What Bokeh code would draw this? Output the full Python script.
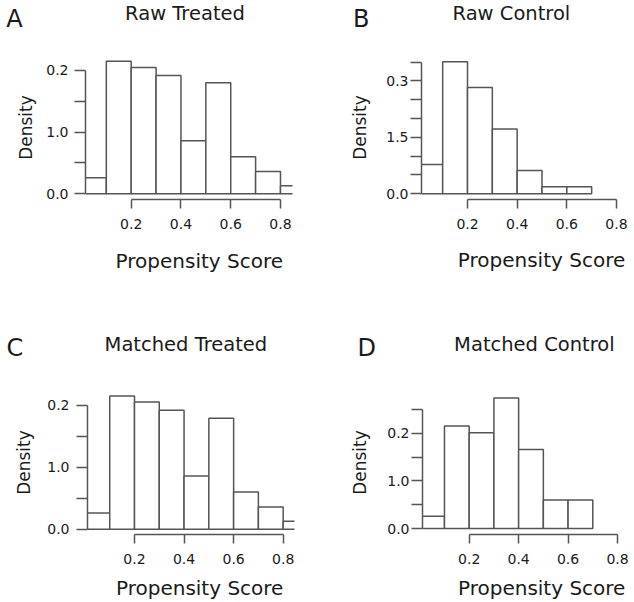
import math
from bokeh.plotting import figure
from bokeh.models import Range1d, FixedTicker
from bokeh.core.properties import value
from bokeh.layouts import column, row
from bokeh.embed import file_html
from bokeh.resources import INLINE

# ---- data ----
bin_edges = [0.0, 0.1, 0.2, 0.3, 0.4, 0.5, 0.6, 0.7, 0.8, 0.9]
raw_treated = [0.26, 2.15, 2.05, 1.92, 0.86, 1.80, 0.60, 0.36, 0.13]
raw_control = [0.78, 3.51, 2.83, 1.72, 0.62, 0.19, 0.19]
matched_treated = [0.26, 2.15, 2.05, 1.92, 0.86, 1.79, 0.60, 0.36, 0.13]
matched_control = [0.26, 2.15, 2.01, 2.74, 1.66, 0.60, 0.60]

x_ticks = [0.2, 0.4, 0.6, 0.8]
x_tick_labels = ["0.2", "0.4", "0.6", "0.8"]

y_ticks_a = [0, 1, 2]
y_minor_a = [0.5, 1.5]
y_labels_a = ["0.0", "1.0", "0.2"]

y_ticks_b = [0, 1.5, 3]
y_minor_b = [0.5, 1, 2, 2.5, 3.5]
y_labels_b = ["0.0", "1.5", "0.3"]

y_ticks_d = [0, 1, 2]
y_minor_d = [0.5, 1.5, 2.5]
y_labels_d = ["0.0", "1.0", "0.2"]

letters = ["A", "B", "C", "D"]
titles = ["Raw Treated", "Raw Control", "Matched Treated", "Matched Control"]
x_label = "Propensity Score"
y_label = "Density"

FONT = "DejaVu Sans"
LINE = "#555555"
TEXT = "#1a1a1a"
W = 317
TOTAL_W = 634
BASELINE_FIX = 0.345   # text glyphs land this many em lower than the anchor


def strip(height, items):
    """A text-only strip. items: (x, baseline_y, text, font_px, align) in strip pixels."""
    s = figure(width=TOTAL_W, height=height, output_backend="svg", toolbar_location=None,
               x_range=Range1d(0, TOTAL_W), y_range=Range1d(height, 0),
               x_axis_type=None, y_axis_type=None, min_border=0,
               outline_line_color=None, background_fill_color="white",
               border_fill_color="white")
    s.title.visible = False
    s.grid.visible = False
    for x, y, txt, size, align in items:
        s.text(x=[x], y=[y - BASELINE_FIX * size], text=[txt], text_font=value(FONT),
               text_font_size=f"{size}px", text_color=TEXT, text_align=align,
               text_baseline="alphabetic")
    return s


def panel(values, yt, ym, yl, ybound, cfg):
    H = cfg["H"]
    fl, fr, ft, fb = cfg["frame"]
    p = figure(width=W, height=H, output_backend="svg", toolbar_location=None,
               x_range=Range1d(*cfg["xr"]), y_range=Range1d(*cfg["yr"]),
               min_border_left=fl, min_border_right=W - fr,
               min_border_top=ft, min_border_bottom=H - fb,
               outline_line_color=None, background_fill_color="white",
               border_fill_color="white")
    p.grid.visible = False
    p.title.visible = False
    n = len(values)
    p.quad(left=bin_edges[:n], right=bin_edges[1:n + 1], bottom=0, top=values,
           fill_color="white", line_color=LINE, line_width=1.5)

    xa = p.xaxis[0]
    xa.bounds = (x_ticks[0], x_ticks[-1])
    xa.ticker = FixedTicker(ticks=x_ticks, minor_ticks=[])
    xa.major_label_overrides = {t: s for t, s in zip(x_ticks, x_tick_labels)}
    xa.major_tick_out = 9
    xa.major_tick_in = 0
    xa.minor_tick_out = 0
    xa.minor_tick_in = 0
    xa.axis_line_color = LINE
    xa.axis_line_width = 1.5
    xa.major_tick_line_color = LINE
    xa.major_tick_line_width = 1.5
    xa.major_label_text_font = FONT
    xa.major_label_text_font_size = "14px"
    xa.major_label_text_color = TEXT
    xa.major_label_standoff = cfg["xstand"]

    ya = p.yaxis[0]
    ya.bounds = (0, ybound)
    ya.ticker = FixedTicker(ticks=yt, minor_ticks=ym)
    ya.major_label_overrides = {t: s for t, s in zip(yt, yl)}
    ya.major_tick_out = 11
    ya.major_tick_in = 0
    ya.minor_tick_out = 11
    ya.minor_tick_in = 0
    ya.axis_line_color = LINE
    ya.axis_line_width = 1.5
    ya.major_tick_line_color = LINE
    ya.major_tick_line_width = 1.5
    ya.minor_tick_line_color = LINE
    ya.minor_tick_line_width = 1.5
    ya.major_label_text_font = FONT
    ya.major_label_text_font_size = "14px"
    ya.major_label_text_color = TEXT
    ya.major_label_standoff = cfg["ystand"]
    ya.major_label_orientation = "horizontal"
    ya.axis_label = y_label
    ya.axis_label_text_font = FONT
    ya.axis_label_text_font_size = "17px"
    ya.axis_label_text_font_style = "normal"
    ya.axis_label_text_color = TEXT
    ya.axis_label_standoff = cfg["ylstand"]
    return p


LETTER_SIZE = 24
TITLE_SIZE = 19.5
XLAB_SIZE = 20

# vertical stack (px): top strip 34, plot row 202, middle strip 126, plot row 212, bottom strip 28
top_strip = strip(34, [
    (14, 26.7, letters[0], LETTER_SIZE, "center"),
    (360.8, 26.7, letters[1], LETTER_SIZE, "center"),
    (184.5, 19.3, titles[0], TITLE_SIZE, "center"),
    (510.9, 19.3, titles[1], TITLE_SIZE, "center"),
])
mid_strip = strip(126, [
    (198.8, 31.3, x_label, XLAB_SIZE, "center"),
    (541.0, 30.8, x_label, XLAB_SIZE, "center"),
    (14.5, 120.2, letters[2], LETTER_SIZE, "center"),
    (366.3, 120.2, letters[3], LETTER_SIZE, "center"),
    (185.4, 115.0, titles[2], TITLE_SIZE, "center"),
    (533.9, 115.0, titles[3], TITLE_SIZE, "center"),
])
bot_strip = strip(28, [
    (199.2, 20.0, x_label, XLAB_SIZE, "center"),
    (541.2, 20.5, x_label, XLAB_SIZE, "center"),
])

cfg_a = dict(H=202, frame=(85, 292, 21, 165), xr=(0.0163, 0.8483), yr=(-0.0924, 2.2426),
             xstand=10, ystand=6, ylstand=7)
cfg_b = dict(H=202, frame=(104, 311, 21, 165), xr=(0.0147, 0.8484), yr=(-0.1516, 3.678),
             xstand=10, ystand=2, ylstand=13)
cfg_c = dict(H=212, frame=(87, 294, 28, 172), xr=(0.0103, 0.8457), yr=(-0.0855, 2.237),
             xstand=10, ystand=7, ylstand=10)
cfg_d = dict(H=212, frame=(105, 312, 28, 174), xr=(0.0111, 0.8485), yr=(-0.1241, 2.897),
             xstand=10, ystand=2, ylstand=14)

pa = panel(raw_treated, y_ticks_a, y_minor_a, y_labels_a, 2, cfg_a)
pb = panel(raw_control, y_ticks_b, y_minor_b, y_labels_b, 3.5, cfg_b)
pc = panel(matched_treated, y_ticks_a, y_minor_a, y_labels_a, 2, cfg_c)
pd = panel(matched_control, y_ticks_d, y_minor_d, y_labels_d, 2.5, cfg_d)

layout = column(top_strip, row(pa, pb), mid_strip, row(pc, pd), bot_strip)
open("out.html", "w").write(file_html(layout, INLINE))
